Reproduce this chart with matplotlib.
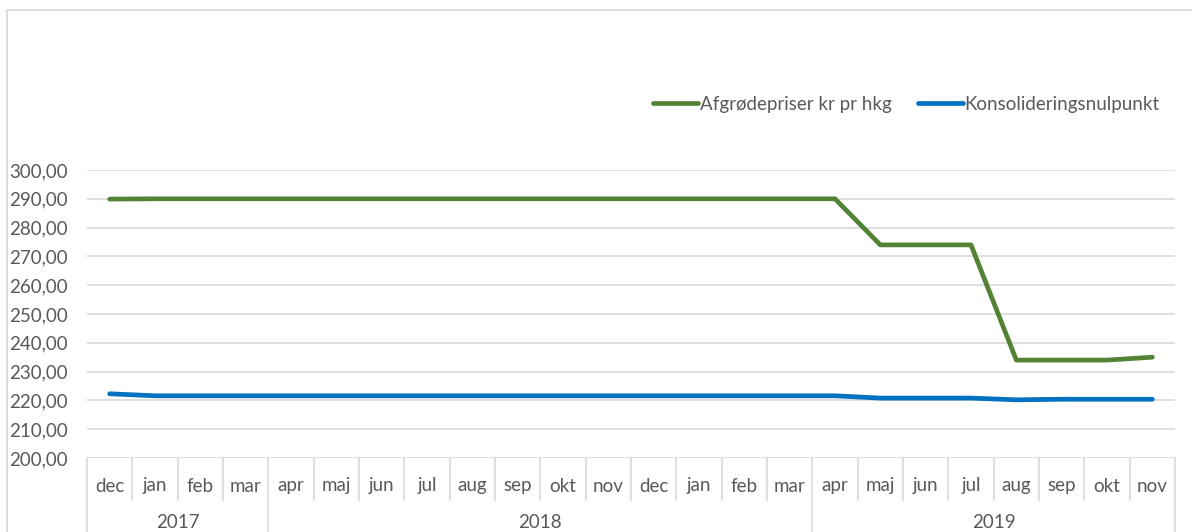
import numpy as np
import matplotlib.pyplot as plt
import matplotlib.transforms as transforms
from matplotlib.patches import Rectangle
from matplotlib.ticker import FuncFormatter

plt.rcParams['font.family'] = ['Lato', 'DejaVu Sans']

# ----------------------------
# Data
# ----------------------------
months = ["dec", "jan", "feb", "mar", "apr", "maj", "jun", "jul", "aug", "sep", "okt", "nov",
          "dec", "jan", "feb", "mar", "apr", "maj", "jun", "jul", "aug", "sep", "okt", "nov"]
years = ["2017", "2018", "2019"]
year_sizes = [4, 12, 8]

afgroede = [289.9, 290, 290, 290, 290, 290, 290, 290, 290, 290, 290, 290,
            290, 290, 290, 290, 290, 274, 274, 274, 234, 234, 234, 235]
konsolidering = [222.3, 221.6, 221.6, 221.6, 221.6, 221.6, 221.6, 221.6, 221.6, 221.6, 221.6, 221.6,
                 221.6, 221.6, 221.6, 221.6, 221.6, 220.8, 220.8, 220.8, 220.2, 220.4, 220.4, 220.4]

green = "#548235"
blue = "#0070C0"
grid = "#d9d9d9"
txt = "#595959"
fs = 13.5

W, H = 1192, 532
fig = plt.figure(figsize=(W / 100, H / 100), dpi=100)

# chart area border
fig.patches.append(Rectangle((7 / W, -0.1), 1.2, (H - 10) / H + 0.1, transform=fig.transFigure,
                             fill=False, edgecolor=grid, linewidth=1.3))

x0, x1, ytop, ybot = 87, 1175, 170, 458
ax = fig.add_axes([x0 / W, (H - ybot) / H, (x1 - x0) / W, (ybot - ytop) / H])

x = np.arange(len(months))
ax.plot(x, afgroede, color=green, lw=3.4, solid_capstyle='round', label="Afgrødepriser kr pr hkg")
ax.plot(x, konsolidering, color=blue, lw=3.4, solid_capstyle='round', label="Konsolideringsnulpunkt")

ax.set_xlim(-0.5, len(months) - 0.5)
ax.set_ylim(200, 300)
ax.set_yticks(np.arange(200, 301, 10))
ax.yaxis.set_major_formatter(FuncFormatter(lambda v, p: f"{v:.2f}".replace(".", ",")))
ax.tick_params(axis='y', length=0, pad=14, labelsize=fs, labelcolor=txt)
ax.set_xticks([])
ax.grid(axis='y', color=grid, lw=1.2)
ax.set_axisbelow(True)
for s in ax.spines.values():
    s.set_visible(False)

# two-level category axis
trans = transforms.blended_transform_factory(ax.transData, ax.transAxes)
hpx = ybot - ytop
mid = -42 / hpx
bottom = -80 / hpx
for i, m in enumerate(months):
    ax.text(i, -28 / hpx, m, transform=trans, ha='center', va='center', fontsize=fs, color=txt)

bounds = np.cumsum([0] + year_sizes) - 0.5
for b in np.arange(-0.5, len(months), 1.0):
    low = bottom if b in bounds else mid
    ax.plot([b, b], [0, low], transform=trans, color=grid, lw=1.2, clip_on=False)
for i, yname in enumerate(years):
    c = (bounds[i] + bounds[i + 1]) / 2
    ax.text(c, -64 / hpx, yname, transform=trans, ha='center', va='center', fontsize=fs, color=txt)

ax.legend(loc='lower right', bbox_to_anchor=(0.986, 1.198), ncol=2, frameon=False, fontsize=fs,
          labelcolor=txt, handlelength=2.4, handletextpad=0.1, columnspacing=1.4,
          borderaxespad=0, borderpad=0)

fig.savefig("out.png", dpi=100)
